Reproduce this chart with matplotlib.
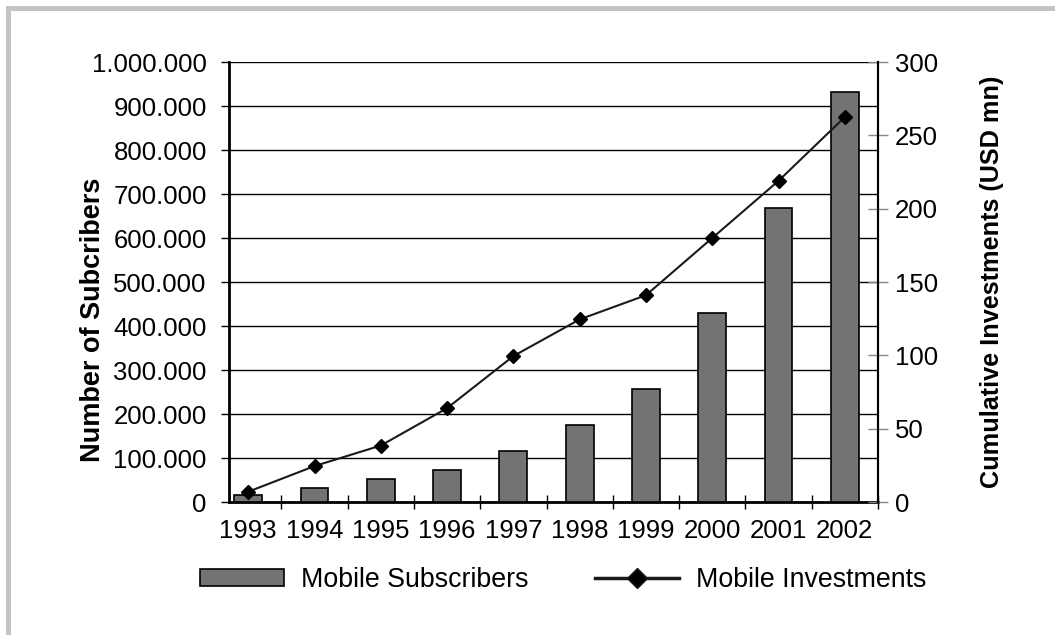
import matplotlib.pyplot as plt
import numpy as np
from matplotlib.patches import Rectangle
from matplotlib.lines import Line2D
from matplotlib.ticker import FuncFormatter

plt.rcParams['font.family'] = ['Liberation Sans', 'DejaVu Sans']

years = ['1993', '1994', '1995', '1996', '1997', '1998', '1999', '2000', '2001', '2002']
subscribers = [15000, 31000, 52000, 73000, 117000, 175000, 257000, 430000, 668000, 931000]
investments = [7, 24.5, 38.5, 64, 99.5, 124.5, 141, 180, 219, 262.5]

fig = plt.figure(figsize=(10.55, 6.35), dpi=100)

# grey frame along the top and left edge
fig.patches.append(Rectangle((6 / 1055, 1 - 11 / 635), 1, 5 / 635, transform=fig.transFigure,
                             facecolor='#c3c3c7', edgecolor='none'))
fig.patches.append(Rectangle((6 / 1055, 0), 5 / 1055, 1 - 6 / 635, transform=fig.transFigure,
                             facecolor='#c3c3c7', edgecolor='none'))

ax = fig.add_axes([229 / 1055, 1 - 502 / 635, 649 / 1055, 440 / 635])
x = np.arange(len(years))

ax.bar(x, subscribers, width=0.42, color='#737373', edgecolor='black', linewidth=1.2, zorder=3)
ax.set_ylim(0, 1000000)
ax.set_xlim(-0.29, 9.5)
ax.set_yticks(np.arange(0, 1000001, 100000))
ax.yaxis.set_major_formatter(FuncFormatter(lambda v, p: f'{int(v):,}'.replace(',', '.')))
ax.grid(axis='y', color='black', linewidth=1.0, zorder=0)
ax.tick_params(axis='y', direction='out', length=6, width=1, labelsize=18.5, pad=10)

# year labels centred under bars, tick marks between categories
ax.set_xticks(x)
ax.set_xticklabels(years)
ax.tick_params(axis='x', which='major', length=0, labelsize=18.5, pad=12)
ax.set_xticks(np.arange(0.5, 10, 1), minor=True)
ax.tick_params(axis='x', which='minor', direction='inout', length=10, width=1)

ax.spines['top'].set_visible(False)
ax.spines['left'].set_linewidth(2)
ax.spines['bottom'].set_linewidth(2)
ax.spines['right'].set_linewidth(1.5)

ax2 = ax.twinx()
ax2.plot(x, investments, color='#1a1a1a', linewidth=1.5, marker='D', markersize=7,
         markerfacecolor='black', markeredgecolor='black', zorder=4)
ax2.set_ylim(0, 300)
ax2.set_yticks(np.arange(0, 301, 50))
ax2.tick_params(axis='y', direction='inout', length=14, width=1, color='#888888',
                labelsize=18.5, pad=5)
ax2.spines['top'].set_visible(False)
ax2.spines['right'].set_linewidth(1.5)
ax2.spines['left'].set_visible(False)
ax2.spines['bottom'].set_visible(False)

fig.text(93 / 1055, 1 - 320 / 635, 'Number of Subcribers', rotation=90, fontsize=19.5,
         fontweight='bold', ha='center', va='center')
fig.text(992 / 1055, 1 - 282 / 635, 'Cumulative Investments (USD mn)', rotation=90,
         fontsize=18.2, fontweight='bold', ha='center', va='center')

handles = [Rectangle((0, 0), 1, 1, facecolor='#737373', edgecolor='black', linewidth=1.2),
           Line2D([], [], color='#1a1a1a', linewidth=2.5, marker='D', markersize=10,
                  markerfacecolor='black')]
fig.legend(handles, ['Mobile Subscribers', 'Mobile Investments'], loc='center left',
           bbox_to_anchor=(200 / 1055, 1 - 580 / 635), ncol=2, frameon=False, fontsize=19.3,
           handlelength=3.13, handleheight=0.58, handletextpad=0.63, columnspacing=2.5,
           borderpad=0, borderaxespad=0)

fig.savefig('out.png', dpi=100)
